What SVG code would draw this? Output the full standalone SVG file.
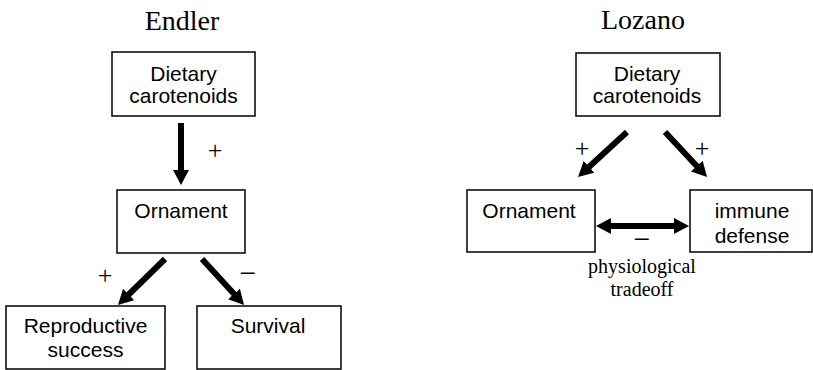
<svg xmlns="http://www.w3.org/2000/svg" width="813" height="370" viewBox="0 0 813 370">
<style>
.box{fill:#fff;stroke:#000;stroke-width:1.5}
.lbl{font-family:"Liberation Sans",Arial,sans-serif;font-size:21px;fill:#000;text-anchor:middle}
.ttl{font-family:"Liberation Serif","Times New Roman",serif;font-size:28px;fill:#000;text-anchor:middle}
.sign{font-family:"Liberation Serif","Times New Roman",serif;font-size:26px;fill:#000;text-anchor:middle}
.minus{font-family:"Liberation Serif","Times New Roman",serif;font-size:30px;fill:#000;text-anchor:middle}
.note{font-family:"Liberation Serif","Times New Roman",serif;font-size:20px;fill:#000;text-anchor:middle}
.arr{stroke:#000;stroke-width:6;fill:none;marker-end:url(#ah)}
</style>
<defs>
<marker id="ah" viewBox="0 0 15 16" markerWidth="15" markerHeight="16" refX="5" refY="8" orient="auto-start-reverse" markerUnits="userSpaceOnUse">
<path d="M0,0 L15,8 L0,16 z" fill="#000"/>
</marker>
</defs>
<rect width="813" height="370" fill="#fff"/>
<text class="ttl" x="182" y="30">Endler</text>
<text class="ttl" x="643" y="29">Lozano</text>
<g id="e-diet"><rect class="box" x="112" y="52" width="143" height="64"/><text class="lbl" x="183.5" y="81">Dietary</text><text class="lbl" x="183.5" y="103">carotenoids</text></g>
<g id="e-orn"><rect class="box" x="117" y="190" width="128" height="63"/><text class="lbl" x="181" y="218">Ornament</text></g>
<g id="e-repro"><rect class="box" x="6" y="306" width="159" height="63"/><text class="lbl" x="85.5" y="333">Reproductive</text><text class="lbl" x="85.5" y="357">success</text></g>
<g id="e-surv"><rect class="box" x="197" y="306" width="144" height="63"/><text class="lbl" x="268" y="333">Survival</text></g>
<g id="l-diet"><rect class="box" x="576" y="53" width="144" height="63"/><text class="lbl" x="647" y="81">Dietary</text><text class="lbl" x="647" y="103">carotenoids</text></g>
<g id="l-orn"><rect class="box" x="467" y="190" width="128" height="62"/><text class="lbl" x="529" y="218">Ornament</text></g>
<g id="l-imm"><rect class="box" x="690" y="190" width="122" height="62"/><text class="lbl" x="752" y="218">immune</text><text class="lbl" x="752" y="243">defense</text></g>
<g id="connectors">
<line class="arr" x1="181" y1="123" x2="181" y2="175"/>
<line class="arr" x1="165" y1="259" x2="125.1" y2="298"/>
<line class="arr" x1="202" y1="259" x2="237.3" y2="297.6"/>
<line class="arr" x1="627" y1="132" x2="585.4" y2="170.2"/>
<line class="arr" x1="665" y1="132" x2="700.2" y2="169.7"/>
<line class="arr" x1="606" y1="226" x2="679" y2="226" style="marker-start:url(#ah)"/>
</g>
<text class="sign" x="215" y="159">+</text>
<text class="sign" x="105" y="284">+</text>
<text class="minus" x="248" y="283">−</text>
<text class="sign" x="582" y="157">+</text>
<text class="sign" x="702" y="157">+</text>
<text class="minus" x="642" y="249">−</text>
<text class="note" x="642" y="273">physiological</text>
<text class="note" x="642" y="296">tradeoff</text>
</svg>
